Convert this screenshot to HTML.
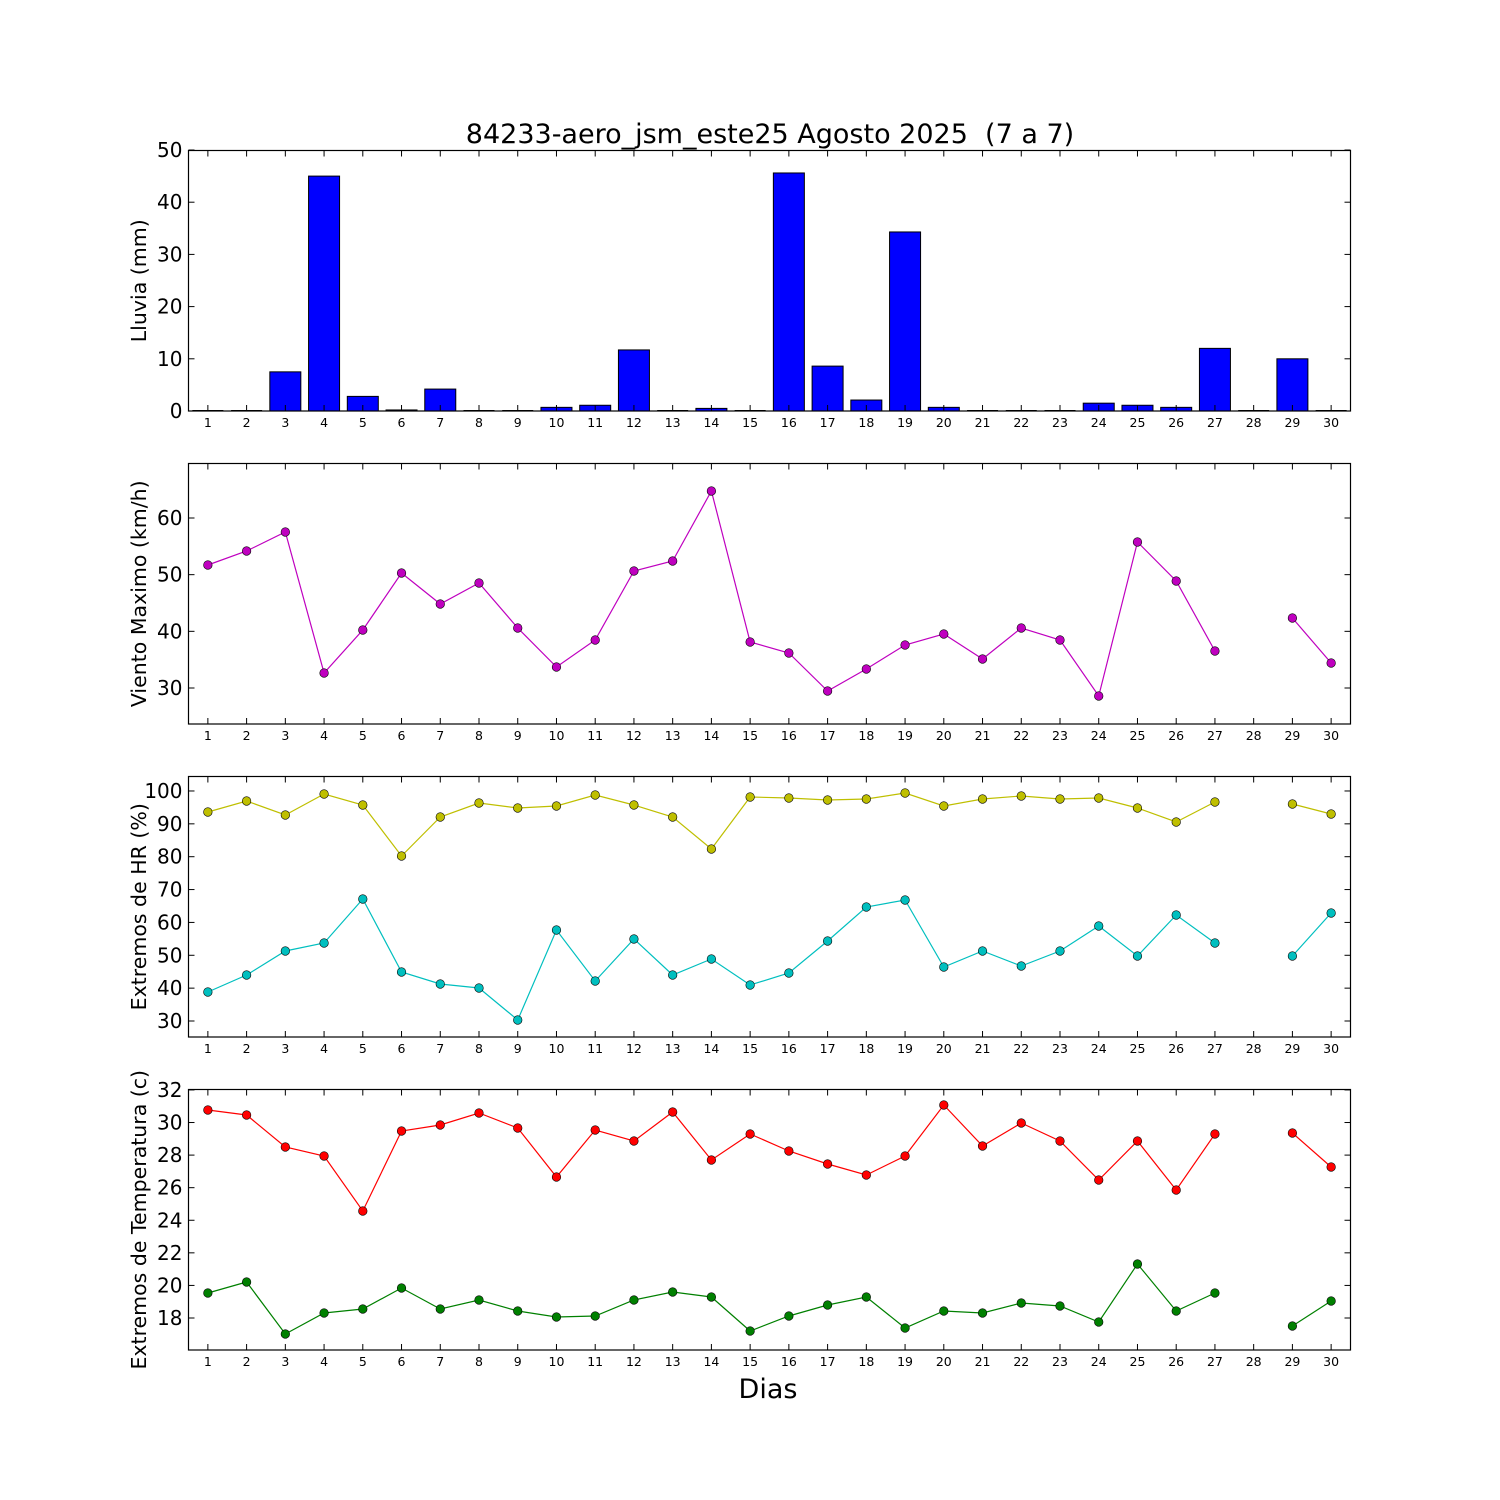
<!DOCTYPE html>
<html><head><meta charset="utf-8"><style>body{margin:0;background:#fff}svg{display:block}text{font-family:"DejaVu Sans","Liberation Sans",sans-serif;white-space:pre}</style></head>
<body><svg id="s" width="1500" height="1500" xmlns="http://www.w3.org/2000/svg"></svg>
<script>
const s=document.getElementById('s');let h='';
const X0=188.5,X1=1350.5,dx=(X1-X0)/30;const xp=d=>X0+(d-0.5)*dx;
const panels=[{t:150.5,b:411,lab:'Lluvia (mm)',ticks:[0,10,20,30,40,50],f:v=>411-v*5.22},
{t:463.5,b:724,lab:'Viento Maximo (km/h)',ticks:[30,40,50,60],f:v=>688-(v-30)*5.667},
{t:776.5,b:1037,lab:'Extremos de HR (%)',ticks:[30,40,50,60,70,80,90,100],f:v=>1021-(v-30)*3.286},
{t:1089.5,b:1350,lab:'Extremos de Temperatura (c)',ticks:[18,20,22,24,26,28,30,32],f:v=>1318-(v-18)*16.29}];
const rain={3:7.5,4:45,5:2.8,6:0.2,7:4.2,10:0.7,11:1.1,12:11.7,14:0.5,16:45.6,17:8.6,18:2.1,19:34.3,20:0.7,24:1.5,25:1.1,26:0.7,27:12,29:10};
for(let d=1;d<=30;d++){const v=rain[d]||0;const y=panels[0].f(v);
if(v>0)h+=`<rect x="${xp(d)-15.5}" y="${y}" width="31" height="${411-y}" fill="#0000ff" stroke="#000" stroke-width="1"/>`;
else h+=`<line x1="${xp(d)-15.5}" y1="410.5" x2="${xp(d)+15.5}" y2="410.5" stroke="#000" stroke-width="1"/>`;}
function series(p,c){let segs=[];let cur=[];p.forEach((y,i)=>{if(y==null){if(cur.length)segs.push(cur);cur=[];}else cur.push([xp(i+1),y]);});if(cur.length)segs.push(cur);
segs.forEach(sg=>{h+=`<polyline points="${sg.map(a=>a.join(',')).join(' ')}" fill="none" stroke="${c}" stroke-width="1.2"/>`;});
segs.flat().forEach(a=>{h+=`<circle cx="${a[0]}" cy="${a[1]}" r="4.3" fill="${c}" stroke="#000" stroke-width="0.6"/>`;});}
series([565,551,532,673,630,573,604,583,628,667,640,571,561,491,642,653,691,669,645,634,659,628,640,696,542,581,651,null,618,663],'#bf00bf');
series([812,801,815,794,805,856,817,803,808,806,795,805,817,849,797,798,800,799,793,806,799,796,799,798,808,822,802,null,804,814],'#bfbf00');
series([992,975,951,943,899,972,984,988,1020,930,981,939,975,959,985,973,941,907,900,967,951,966,951,926,956,915,943,null,956,913],'#00bfbf');
series([1110,1115,1147,1156,1211,1131,1125,1113,1128,1177,1130,1141,1112,1160,1134,1151,1164,1175,1156,1105,1146,1123,1141,1180,1141,1190,1134,null,1133,1167],'#ff0000');
series([1293,1282,1334,1313,1309,1288,1309,1300,1311,1317,1316,1300,1292,1297,1331,1316,1305,1297,1328,1311,1313,1303,1306,1322,1264,1311,1293,null,1326,1301],'#008000');
panels.forEach(P=>{
h+=`<rect x="${X0}" y="${P.t}" width="${X1-X0}" height="${P.b-P.t}" fill="none" stroke="#000" stroke-width="1.2"/>`;
for(let d=1;d<=30;d++){const x=xp(d);h+=`<line x1="${x}" y1="${P.t}" x2="${x}" y2="${P.t+6}" stroke="#000"/><line x1="${x}" y1="${P.b}" x2="${x}" y2="${P.b-6}" stroke="#000"/>`;
h+=`<text x="${x}" y="${P.b+16}" font-size="12.5" text-anchor="middle">${d}</text>`;}
P.ticks.forEach(v=>{const y=P.f(v);h+=`<line x1="${X0}" y1="${y}" x2="${X0+6}" y2="${y}" stroke="#000"/><line x1="${X1}" y1="${y}" x2="${X1-6}" y2="${y}" stroke="#000"/>`;
h+=`<text x="${X0-6}" y="${y+7}" font-size="20" text-anchor="end">${v}</text>`;});
const cy=(P.t+P.b)/2;h+=`<text x="146" y="${cy}" font-size="20.5" text-anchor="middle" transform="rotate(-90 146 ${cy})">${P.lab}</text>`;});
h+=`<text x="770" y="143" font-size="27" text-anchor="middle">84233-aero_jsm_este25 Agosto 2025  (7 a 7)</text>`;
h+=`<text x="768" y="1398" font-size="27" text-anchor="middle">Dias</text>`;
s.innerHTML=h;
</script></body></html>
